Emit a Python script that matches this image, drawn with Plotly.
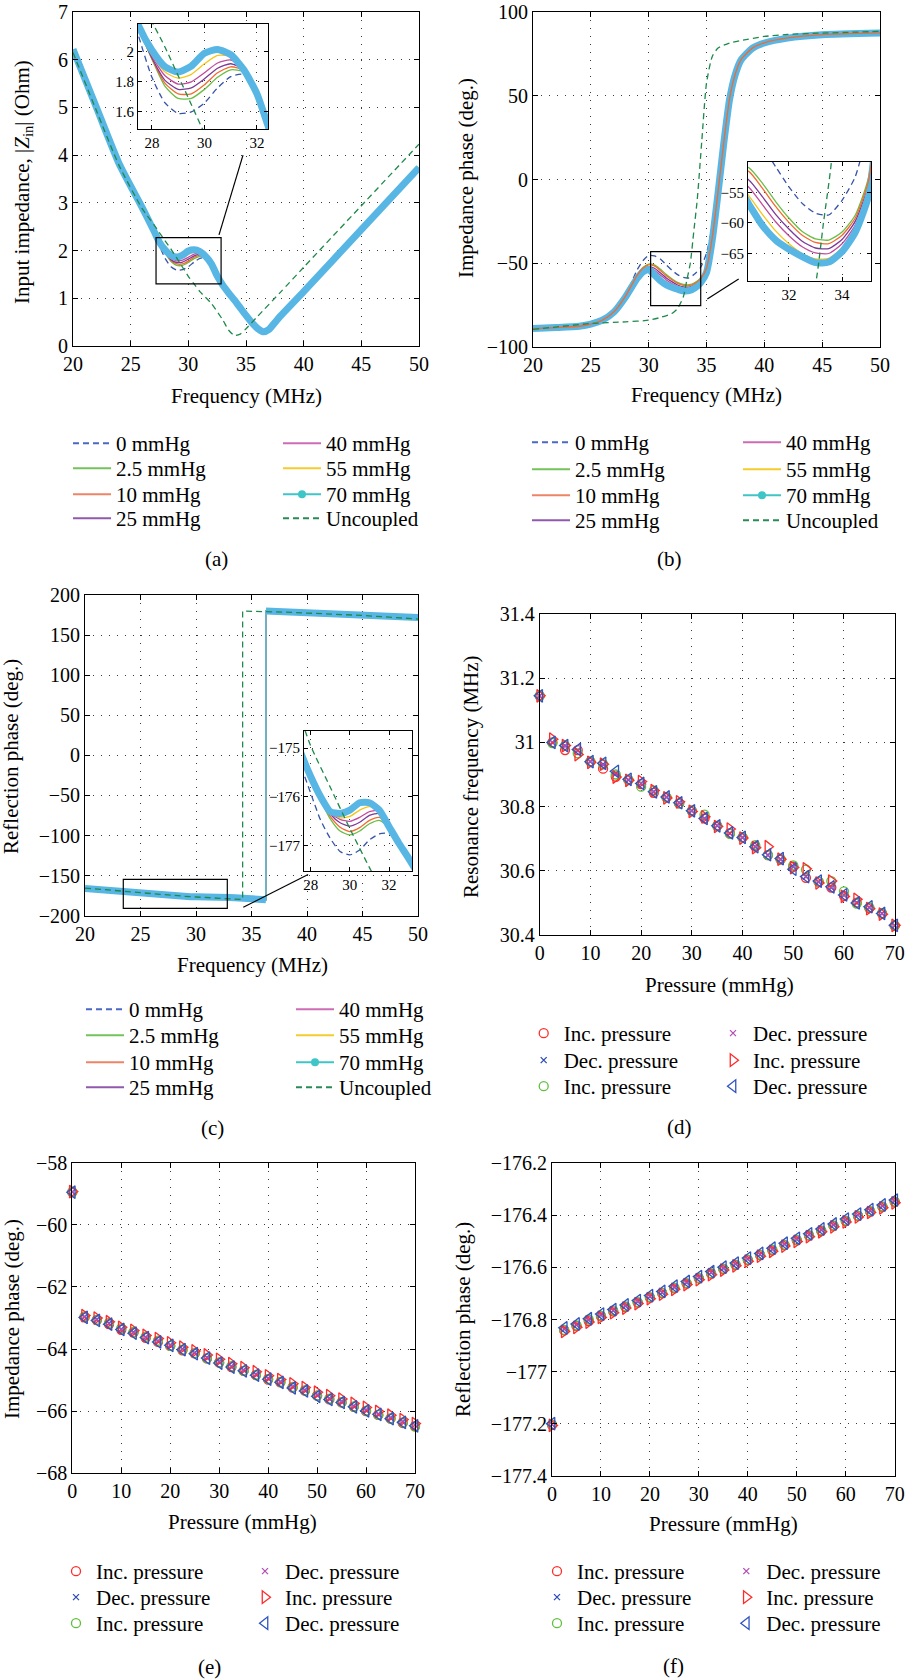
import plotly.graph_objects as go

# ============================ DATA ============================
# (a) Input impedance magnitude |Zin| (Ohm) vs frequency (MHz)
FREQ_A = [20, 22, 24, 26, 27, 27.5, 28, 28.5, 29, 29.5, 30, 30.5, 31, 31.5, 32, 32.5,
          33, 33.5, 34, 34.5, 35, 35.5, 36, 36.5, 37, 37.5, 38, 40, 45, 50]
ZIN_70 = [6.22, 5.02, 3.82, 2.9, 2.42, 2.17, 2.01, 1.9, 1.865, 1.905, 1.99, 2.015, 1.98, 1.88, 1.72, 1.47,
          1.27, 1.11, 0.96, 0.8, 0.64, 0.49, 0.37, 0.3, 0.35, 0.49, 0.63, 1.14, 2.44, 3.74]
FREQ_A_ZOOM = [27, 27.5, 28, 28.5, 29, 29.5, 30, 30.5, 31, 31.5, 32, 32.5, 33]
ZIN_0 = [2.42, 2.1, 1.83, 1.66, 1.59, 1.6, 1.66, 1.76, 1.835, 1.85, 1.72, 1.47, 1.27]
ZIN_2_5 = [2.42, 2.16, 1.95, 1.77, 1.69, 1.69, 1.75, 1.83, 1.88, 1.865, 1.72, 1.47, 1.27]
ZIN_10 = [2.42, 2.16, 1.955, 1.79, 1.72, 1.72, 1.78, 1.86, 1.9, 1.875, 1.72, 1.47, 1.27]
ZIN_25 = [2.42, 2.16, 1.96, 1.81, 1.75, 1.76, 1.82, 1.89, 1.92, 1.88, 1.72, 1.47, 1.27]
ZIN_40 = [2.42, 2.17, 1.97, 1.84, 1.785, 1.8, 1.86, 1.925, 1.945, 1.89, 1.72, 1.47, 1.27]
ZIN_55 = [2.42, 2.17, 1.98, 1.865, 1.825, 1.85, 1.92, 1.975, 1.97, 1.895, 1.72, 1.47, 1.27]
FREQ_A_UNC = [20, 22, 24, 26, 27, 27.5, 28, 28.5, 29, 29.5, 30, 30.5, 31, 32, 33, 33.5, 34, 34.5,
              35, 36, 38, 40, 45, 50]
ZIN_UNC = [6.15, 4.95, 3.78, 2.88, 2.55, 2.37, 2.2, 2.03, 1.84, 1.65, 1.46, 1.3, 1.14, 0.89, 0.54, 0.33,
           0.22, 0.25, 0.36, 0.62, 1.13, 1.65, 2.94, 4.23]

# (b) Impedance phase (deg.) vs frequency (MHz)
FREQ_B = [20, 22, 24, 25, 26, 27, 28, 29, 29.5, 30, 30.5, 31, 31.5, 32, 32.5, 33, 33.5, 34, 34.5,
          35, 35.5, 36, 36.5, 37, 37.5, 38, 39, 40, 42, 45, 50]
PHZ_70 = [-89.0, -88.4, -87.6, -86.4, -84.0, -79.1, -70.1, -59.1, -55.1, -53.7, -57.0, -60.4, -62.8,
          -64.3, -65.5, -66.5, -66.4, -64.7, -61.5, -55.5, -36.0, -8.0, 22.0, 48.0, 63.0, 71.5, 78.5,
          81.5, 84.4, 86.4, 87.4]
PHZ_10 = [-89.0, -88.4, -87.6, -86.4, -84.0, -79.0, -69.6, -57.3, -53.0, -51.0, -51.6, -54.3, -57.3,
          -59.9, -62.0, -63.2, -63.4, -62.0, -59.2, -53.0, -34.5, -7.2, 22.5, 48.5, 63.3, 71.7, 78.6,
          81.6, 84.5, 86.5, 87.5]
FREQ_B_ZOOM = [28, 29, 29.5, 30, 30.5, 31, 31.5, 32, 32.5, 33, 33.5, 34, 34.5, 35, 35.5, 36]
PHZ_0 = [-70.0, -54.0, -48.5, -45.3, -45.6, -47.5, -50.8, -54.1, -56.8, -58.4, -58.7, -56.3, -52.4,
         -44.0, -28.0, -6.0]
PHZ_2_5 = [-69.5, -57.0, -52.5, -50.5, -51.0, -53.5, -56.5, -59.2, -61.4, -62.6, -62.8, -61.5, -58.7,
           -52.5, -34.0, -7.0]
PHZ_25 = [-69.8, -57.8, -53.8, -52.0, -53.0, -55.7, -58.6, -61.0, -63.0, -64.1, -64.2, -62.7, -59.7,
          -53.6, -35.0, -7.5]
PHZ_40 = [-69.9, -58.2, -54.3, -52.7, -54.2, -57.0, -59.8, -62.1, -63.9, -64.9, -65.0, -63.4, -60.3,
          -54.2, -35.3, -7.7]
PHZ_55 = [-70.0, -58.6, -54.8, -53.2, -55.6, -58.6, -61.3, -63.4, -65.0, -65.9, -65.8, -64.1, -60.9,
          -54.8, -35.6, -7.8]
FREQ_B_UNC = [20, 25, 28, 30, 31, 32, 32.5, 33, 33.3, 33.6, 33.9, 34.2, 34.6, 35, 35.5, 36, 37, 38,
              40, 42, 45, 50]
PHZ_UNC = [-89.5, -86.0, -85.0, -84.0, -82.4, -80.0, -77.0, -70.0, -60.0, -50.0, -31.0, -12.0, 23.6,
           57.5, 73.5, 78.5, 81.5, 83.0, 85.4, 86.6, 87.4, 88.4]

# (c) Reflection phase (deg.) vs frequency (MHz)
FREQ_C = [20, 22, 24, 26, 27, 27.5, 28, 28.5, 29, 29.5, 30, 30.5, 31, 31.5, 32, 32.5, 33, 33.5, 34,
          35, 36, 36.3, 36.3, 37, 38, 40, 42, 45, 48, 50]
PHR_70 = [-166.0, -168.6, -171.0, -173.2, -174.55, -175.1, -175.58, -175.99, -176.3, -176.34, -176.27,
          -176.12, -176.12, -176.27, -176.61, -176.95, -177.26, -177.6, -178.0, -178.8, -179.6, -180.0,
          180.0, 179.6, 179.0, 177.8, 176.6, 175.2, 173.5, 172.0]
FREQ_C_ZOOM = [27, 27.5, 28, 28.5, 29, 29.5, 30, 30.5, 31, 31.5, 32, 32.5, 33, 34, 35, 36, 36.3, 36.3, 37]
PHR_0 = [-174.6, -175.35, -175.92, -176.47, -176.85, -177.12, -177.19, -177.09, -176.88, -176.76,
         -176.75, -176.95, -177.26, -178.0, -178.8, -179.6, -180.0, 180.0, 179.6]
PHR_2_5 = [-174.55, -175.1, -175.62, -176.06, -176.45, -176.7, -176.78, -176.7, -176.55, -176.48,
           -176.62, -176.95, -177.26, -178.0, -178.8, -179.6, -180.0, 180.0, 179.6]
PHR_10 = [-174.55, -175.1, -175.61, -176.04, -176.4, -176.62, -176.71, -176.63, -176.48, -176.42,
          -176.6, -176.95, -177.26, -178.0, -178.8, -179.6, -180.0, 180.0, 179.6]
PHR_25 = [-174.55, -175.1, -175.6, -176.03, -176.35, -176.53, -176.6, -176.52, -176.38, -176.34,
          -176.58, -176.95, -177.26, -178.0, -178.8, -179.6, -180.0, 180.0, 179.6]
PHR_40 = [-174.55, -175.1, -175.6, -176.02, -176.32, -176.46, -176.5, -176.42, -176.3, -176.28,
          -176.56, -176.95, -177.26, -178.0, -178.8, -179.6, -180.0, 180.0, 179.6]
PHR_55 = [-174.55, -175.1, -175.59, -176.0, -176.3, -176.43, -176.4, -176.27, -176.2, -176.24,
          -176.55, -176.95, -177.26, -178.0, -178.8, -179.6, -180.0, 180.0, 179.6]
FREQ_C_UNC = [20, 22, 24, 26, 27, 28, 29, 30, 31, 32, 33, 34, 34.2, 34.2, 35, 36, 38, 40, 45, 50]
PHR_UNC = [-165.5, -168.0, -170.4, -172.7, -173.8, -174.95, -175.8, -176.65, -177.45, -178.2, -178.9,
           -179.6, -179.8, 180.0, 179.9, 179.6, 178.6, 177.5, 174.5, 170.0]

# (d)-(f) versus pressure (mmHg)
PRESSURE = [0, 2.5, 5, 7.5, 10, 12.5, 15, 17.5, 20, 22.5, 25, 27.5, 30, 32.5, 35, 37.5, 40, 42.5,
            45, 47.5, 50, 52.5, 55, 57.5, 60, 62.5, 65, 67.5, 70]
FRES_INC1 = [31.145, 31.0, 30.976, 30.976, 30.94, 30.918, 30.893, 30.883, 30.87, 30.843, 30.829, 30.81,
             30.787, 30.763, 30.74, 30.717, 30.704, 30.675, 30.649, 30.636, 30.613, 30.578, 30.566,
             30.548, 30.522, 30.501, 30.484, 30.467, 30.429]
FRES_DEC1 = [31.145, 31.0, 30.99, 30.976, 30.94, 30.932, 30.904, 30.883, 30.872, 30.846, 30.829,
             30.812, 30.787, 30.763, 30.74, 30.717, 30.704, 30.675, 30.649, 30.636, 30.613, 30.582,
             30.566, 30.548, 30.525, 30.501, 30.486, 30.467, 30.429]
FRES_INC2 = [31.145, 30.998, 30.99, 30.966, 30.94, 30.932, 30.9, 30.883, 30.862, 30.85, 30.829, 30.81,
             30.787, 30.775, 30.74, 30.715, 30.704, 30.68, 30.649, 30.636, 30.617, 30.604, 30.566,
             30.568, 30.536, 30.498, 30.486, 30.467, 30.429]
FRES_DEC2 = [31.145, 31.0, 30.988, 30.974, 30.941, 30.93, 30.902, 30.884, 30.871, 30.845, 30.83,
             30.811, 30.786, 30.762, 30.741, 30.716, 30.703, 30.674, 30.648, 30.635, 30.612, 30.581,
             30.565, 30.547, 30.524, 30.5, 30.485, 30.466, 30.43]
FRES_INC3 = [31.145, 31.01, 30.99, 30.962, 30.938, 30.932, 30.892, 30.882, 30.878, 30.85, 30.827,
             30.815, 30.785, 30.768, 30.738, 30.73, 30.702, 30.672, 30.675, 30.636, 30.61, 30.606,
             30.562, 30.568, 30.52, 30.511, 30.482, 30.465, 30.43]
FRES_DEC3 = [31.145, 31.0, 30.99, 30.978, 30.94, 30.935, 30.91, 30.885, 30.872, 30.846, 30.83, 30.812,
             30.787, 30.763, 30.74, 30.718, 30.704, 30.675, 30.65, 30.638, 30.605, 30.582, 30.568,
             30.55, 30.525, 30.5, 30.488, 30.467, 30.43]

ZPH_INC1 = [-58.95, -62.98, -63.07, -63.2, -63.38, -63.47, -63.64, -63.77, -63.9, -64.04, -64.14, -64.3,
            -64.44, -64.58, -64.7, -64.84, -64.98, -65.07, -65.24, -65.34, -65.5, -65.62, -65.72, -65.86,
            -66.0, -66.12, -66.24, -66.38, -66.48]
ZPH_DEC1 = [-58.94, -62.96, -63.05, -63.17, -63.36, -63.46, -63.62, -63.74, -63.87, -64.0, -64.12,
            -64.27, -64.41, -64.56, -64.67, -64.81, -64.94, -65.05, -65.21, -65.32, -65.48, -65.59,
            -65.69, -65.83, -65.96, -66.09, -66.21, -66.34, -66.44]
ZPH_INC2 = [-58.94, -62.95, -63.06, -63.16, -63.33, -63.45, -63.6, -63.73, -63.9, -64.02, -64.13, -64.3,
            -64.43, -64.55, -64.7, -64.83, -64.96, -65.06, -65.22, -65.33, -65.5, -65.6, -65.71, -65.85,
            -65.98, -66.12, -66.23, -66.36, -66.5]
ZPH_DEC2 = [-58.94, -62.97, -63.06, -63.18, -63.37, -63.47, -63.62, -63.75, -63.88, -64.01, -64.13,
            -64.28, -64.42, -64.56, -64.68, -64.82, -64.95, -65.06, -65.21, -65.33, -65.48, -65.6, -65.7,
            -65.84, -65.97, -66.1, -66.22, -66.34, -66.45]
ZPH_INC3 = [-58.93, -62.92, -63.0, -63.12, -63.3, -63.4, -63.56, -63.66, -63.8, -63.94, -64.06, -64.19,
            -64.33, -64.47, -64.6, -64.73, -64.86, -64.98, -65.12, -65.24, -65.39, -65.5, -65.61, -65.75,
            -65.88, -66.01, -66.13, -66.27, -66.4]
ZPH_DEC3 = [-58.95, -62.98, -63.08, -63.2, -63.37, -63.49, -63.63, -63.77, -63.88, -64.02, -64.15,
            -64.29, -64.45, -64.58, -64.7, -64.84, -64.97, -65.07, -65.25, -65.35, -65.52, -65.62,
            -65.72, -65.86, -65.99, -66.1, -66.24, -66.36, -66.47]

RPH_INC1 = [-177.205, -176.842, -176.825, -176.806, -176.788, -176.769, -176.752, -176.735, -176.716,
            -176.699, -176.68, -176.662, -176.642, -176.624, -176.606, -176.59, -176.572, -176.553,
            -176.534, -176.514, -176.496, -176.478, -176.46, -176.44, -176.422, -176.402, -176.386,
            -176.367, -176.348]
RPH_DEC1 = [-177.203, -176.837, -176.821, -176.802, -176.783, -176.766, -176.748, -176.731, -176.712,
            -176.696, -176.676, -176.658, -176.639, -176.62, -176.603, -176.587, -176.568, -176.55,
            -176.53, -176.511, -176.492, -176.475, -176.456, -176.437, -176.418, -176.399, -176.382,
            -176.364, -176.345]
RPH_INC2 = [-177.203, -176.84, -176.823, -176.8, -176.785, -176.765, -176.75, -176.733, -176.714,
            -176.697, -176.678, -176.66, -176.641, -176.622, -176.605, -176.589, -176.57, -176.551,
            -176.532, -176.513, -176.494, -176.476, -176.458, -176.439, -176.42, -176.401, -176.384,
            -176.366, -176.347]
RPH_DEC2 = [-177.202, -176.836, -176.82, -176.801, -176.782, -176.765, -176.747, -176.73, -176.711,
            -176.695, -176.675, -176.657, -176.638, -176.619, -176.602, -176.586, -176.567, -176.549,
            -176.529, -176.51, -176.491, -176.474, -176.455, -176.436, -176.417, -176.398, -176.381,
            -176.363, -176.344]
RPH_INC3 = [-177.207, -176.846, -176.83, -176.81, -176.792, -176.774, -176.756, -176.739, -176.72,
            -176.703, -176.684, -176.666, -176.647, -176.628, -176.61, -176.594, -176.576, -176.557,
            -176.538, -176.518, -176.5, -176.482, -176.463, -176.444, -176.425, -176.406, -176.389,
            -176.371, -176.352]
RPH_DEC3 = [-177.2, -176.832, -176.817, -176.797, -176.779, -176.762, -176.744, -176.727, -176.708,
            -176.692, -176.672, -176.654, -176.635, -176.616, -176.599, -176.583, -176.564, -176.546,
            -176.526, -176.507, -176.488, -176.471, -176.452, -176.433, -176.414, -176.395, -176.378,
            -176.36, -176.341]

CURVE_KEYS = ["0", "2.5", "10", "25", "40", "55", "70", "unc"]
CURVE_LABELS = ["0 mmHg", "2.5 mmHg", "10 mmHg", "25 mmHg", "40 mmHg", "55 mmHg", "70 mmHg", "Uncoupled"]
MARKER_LABELS = ["Inc. pressure", "Dec. pressure", "Inc. pressure", "Dec. pressure", "Inc. pressure",
                 "Dec. pressure"]

FREQ_TICKS = [20, 25, 30, 35, 40, 45, 50]
ZIN_TICKS = [0, 1, 2, 3, 4, 5, 6, 7]
PHZ_TICKS = [-100, -50, 0, 50, 100]
PHR_TICKS = [-200, -150, -100, -50, 0, 50, 100, 150, 200]
P_TICKS = [0, 10, 20, 30, 40, 50, 60, 70]
FRES_TICKS = [30.4, 30.6, 30.8, 31, 31.2, 31.4]
ZPH_TICKS = [-68, -66, -64, -62, -60, -58]
RPH_TICKS = [-177.4, -177.2, -177, -176.8, -176.6, -176.4, -176.2]
INSET_A_XT, INSET_A_YT = [28, 30, 32], [1.6, 1.8, 2]
INSET_B_XT, INSET_B_YT = [32, 34], [-65, -60, -55]
INSET_C_XT, INSET_C_YT = [28, 30, 32], [-177, -176, -175]

# ============================ STYLE / LAYOUT ============================
FONT = "Liberation Serif, Tinos, Times New Roman, DejaVu Serif, serif"
W, H = 906, 1679
DASH = "6px,4px"
STYLE = {
    "0": ("#3553a8", 1.3, DASH),
    "2.5": ("#6cbd45", 1.3, None),
    "10": ("#f26a2e", 1.3, None),
    "25": ("#7b3a96", 1.3, None),
    "40": ("#c24a9c", 1.3, None),
    "55": ("#f6c514", 1.3, None),
    "70": ("#58b6e4", 7, None),
    "unc": ("#1d8a4a", 1.3, DASH),
}
LEGEND_STYLE = {
    "0": ("#4a68c4", DASH), "2.5": ("#74c35a", None), "10": ("#ec8466", None),
    "25": ("#9159ad", None), "40": ("#cc6cb6", None), "55": ("#f5cc2a", None),
    "70": ("#3fc5c7", None), "unc": ("#2a8a55", DASH),
}

fig = go.Figure()


def xd(a, b):
    return [a / W, b / W]


def yd(top, bottom):
    return [1 - bottom / H, 1 - top / H]


def axis(dom, rng, tv, anchor, fs=20, tl=5):
    return dict(domain=dom, range=rng, tickvals=tv, anchor=anchor, showline=True, linecolor="black",
                linewidth=1, mirror="allticks", ticks="inside", ticklen=tl, tickwidth=1,
                tickcolor="black", showgrid=True, gridcolor="#3a3a3a", gridwidth=1,
                griddash="1px,7px", zeroline=False, fixedrange=True, automargin=False,
                tickfont=dict(family=FONT, size=fs, color="black"))


AXES = [
    # n, xdomain px, ydomain px, xrange, yrange, xticks, yticks, font size
    (1, (73, 419), (12, 346), [20, 50], [0, 7], FREQ_TICKS, ZIN_TICKS, 20),
    (2, (533, 880), (12, 347), [20, 50], [-100, 100], FREQ_TICKS, PHZ_TICKS, 20),
    (3, (85, 418), (595, 915.7), [20, 50], [-200, 200], FREQ_TICKS, PHR_TICKS, 20),
    (4, (539.7, 894.7), (614, 935), [0, 70], [30.4, 31.4], P_TICKS, FRES_TICKS, 20),
    (5, (72.3, 415), (1162.7, 1473.3), [0, 70], [-68, -58], P_TICKS, ZPH_TICKS, 20),
    (6, (552, 894.7), (1163.3, 1475.7), [0, 70], [-177.4, -176.2], P_TICKS, RPH_TICKS, 20),
    (7, (138, 268), (24, 129), [27.47, 32.42], [1.487, 2.184], INSET_A_XT, INSET_A_YT, 15),
    (8, (748, 871), (162, 281), [30.46, 35.09], [-69.5, -50.03], INSET_B_XT, INSET_B_YT, 15),
    (9, (304, 412), (730.7, 871), [27.66, 33.17], [-177.52, -174.64], INSET_C_XT, INSET_C_YT, 15),
]
for n, xp, yp, xr, yr, xt, yt, fs in AXES:
    s = "" if n == 1 else str(n)
    tl = 5 if fs == 20 else 4
    fig.update_layout(**{"xaxis" + s: axis(xd(*xp), xr, xt, "y" + s, fs, tl),
                         "yaxis" + s: axis(yd(*yp), yr, yt, "x" + s, fs, tl)})


def break_at_wrap(x, y):
    """Insert a gap where the phase wraps from -180 to +180 (no data in between)."""
    xs, ys = [x[0]], [y[0]]
    for i in range(1, len(x)):
        if abs(y[i] - y[i - 1]) > 180:
            xs.append(None)
            ys.append(None)
        xs.append(x[i])
        ys.append(y[i])
    return xs, ys


def add_curve(x, y, key, n, shape, width=None):
    color, w, dash = STYLE[key]
    s = "" if n == 1 else str(n)
    line = dict(color=color, width=width if width else w, shape=shape)
    if shape == "spline":
        line["smoothing"] = 0.6
    if dash:
        line["dash"] = dash
    fig.add_trace(go.Scatter(x=x, y=y, mode="lines", line=line, xaxis="x" + s, yaxis="y" + s,
                             showlegend=False, hoverinfo="skip", connectgaps=False))


PANEL_A = [(FREQ_A_ZOOM, ZIN_0, "0"), (FREQ_A_ZOOM, ZIN_2_5, "2.5"), (FREQ_A_ZOOM, ZIN_10, "10"),
           (FREQ_A_ZOOM, ZIN_25, "25"), (FREQ_A_ZOOM, ZIN_40, "40"), (FREQ_A_ZOOM, ZIN_55, "55"),
           (FREQ_A, ZIN_70, "70"), (FREQ_A_UNC, ZIN_UNC, "unc")]
PANEL_B = [(FREQ_B_ZOOM, PHZ_0, "0"), (FREQ_B_ZOOM, PHZ_2_5, "2.5"), (FREQ_B_ZOOM, PHZ_25, "25"),
           (FREQ_B_ZOOM, PHZ_40, "40"), (FREQ_B_ZOOM, PHZ_55, "55"), (FREQ_B, PHZ_70, "70"),
           (FREQ_B, PHZ_10, "10"), (FREQ_B_UNC, PHZ_UNC, "unc")]
PANEL_C = [(FREQ_C_ZOOM, PHR_0, "0"), (FREQ_C_ZOOM, PHR_2_5, "2.5"), (FREQ_C_ZOOM, PHR_10, "10"),
           (FREQ_C_ZOOM, PHR_25, "25"), (FREQ_C_ZOOM, PHR_40, "40"), (FREQ_C_ZOOM, PHR_55, "55"),
           (FREQ_C, PHR_70, "70"), (FREQ_C_UNC, PHR_UNC, "unc")]

for x, y, key in PANEL_A:
    add_curve(x, y, key, 1, "spline")
for x, y, key in PANEL_B:
    add_curve(x, y, key, 2, "spline")
for x, y, key in PANEL_C:
    if key == "70":
        # thick band made of samples; the wrap itself is only a thin connecting line
        bx, by = break_at_wrap(x, y)
        add_curve(bx, by, key, 3, "linear")
        add_curve(x, y, key, 3, "linear", width=1.6)
    else:
        add_curve(x, y, key, 3, "linear")
for series, inset_n in [(PANEL_A, 7), (PANEL_B, 8), (PANEL_C, 9)]:
    for x, y, key in series:
        add_curve(x, y, key, inset_n, "spline")

# ---------------- marker panels ----------------
MARKERS = [("circle-open", "#ff2b2b", 9), ("x-thin-open", "#2c4db5", 6), ("circle-open", "#5dbf3c", 9),
           ("x-thin-open", "#b24fb6", 6), ("triangle-right-open", "#ff2b2b", 11),
           ("triangle-left-open", "#2f54c0", 11)]
PANEL_D = [FRES_INC1, FRES_DEC1, FRES_INC2, FRES_DEC2, FRES_INC3, FRES_DEC3]
PANEL_E = [ZPH_INC1, ZPH_DEC1, ZPH_INC2, ZPH_DEC2, ZPH_INC3, ZPH_DEC3]
PANEL_F = [RPH_INC1, RPH_DEC1, RPH_INC2, RPH_DEC2, RPH_INC3, RPH_DEC3]

# ---------------- legends (one per entry, placed like the reference) ----------------
legend_counter = [0]


def new_legend(x0, row_center, iw):
    legend_counter[0] += 1
    k = legend_counter[0]
    name = "legend" if k == 1 else "legend%d" % k
    fig.update_layout(**{name: dict(x=x0 / W, y=1 - (row_center - 20) / H, xanchor="left",
                                    yanchor="top", bgcolor="rgba(0,0,0,0)", borderwidth=0,
                                    itemwidth=iw, orientation="v",
                                    font=dict(family=FONT, size=21, color="black"),
                                    itemclick=False, itemdoubleclick=False)})
    return name


LINE_LEGENDS = [  # left line start x, right line start x, row centres
    (73, 283, [443, 468, 494, 518]),
    (532, 743, [442, 469, 495, 520]),
    (86, 296, [1009, 1035, 1062, 1087]),
]
for lx, rx, rows in LINE_LEGENDS:
    for i, (key, label) in enumerate(zip(CURVE_KEYS, CURVE_LABELS)):
        col_x = lx if i < 4 else rx
        lg = new_legend(col_x - 5, rows[i % 4], 38)
        color, dash = LEGEND_STYLE[key]
        line = dict(color=color, width=2)
        if dash:
            line["dash"] = dash
        mode = "lines+markers" if key == "70" else "lines"
        fig.add_trace(go.Scatter(x=[None], y=[None], mode=mode, line=line,
                                 marker=dict(size=8, color=color), name=label, legend=lg,
                                 showlegend=True, hoverinfo="skip"))

MARKER_PANELS = [  # data, axis n, left marker x, right marker x, row centres
    (PANEL_D, 4, 543.7, 733, [1033, 1060, 1086]),
    (PANEL_E, 5, 76, 265, [1571, 1597, 1623]),
    (PANEL_F, 6, 557, 746.3, [1571, 1597, 1623]),
]
for data, n, lx, rx, rows in MARKER_PANELS:
    for i, (yvals, (sym, color, size), label) in enumerate(zip(data, MARKERS, MARKER_LABELS)):
        col_x = lx if i < 3 else rx
        lg = new_legend(col_x - 20, rows[i % 3], 30)
        fig.add_trace(go.Scatter(x=PRESSURE, y=yvals, mode="markers", xaxis="x%d" % n,
                                 yaxis="y%d" % n, name=label, legend=lg, cliponaxis=False,
                                 marker=dict(symbol=sym, size=size, color=color,
                                             line=dict(color=color, width=1.3)),
                                 hoverinfo="skip"))

# ---------------- zoom boxes and connectors ----------------
shapes = []
for ref, (x0, x1, y0, y1), (cx0, cy0, cx1, cy1) in [
        ("", (27.2, 32.84, 1.3, 2.27), (32.66, 2.33, 34.74, 4.0)),
        ("2", (30.17, 34.5, -75.3, -43.1), (35.07, -71.3, 37.78, -59.4)),
        ("3", (23.45, 32.82, -190.9, -154.7), (34.26, -189.5, 40.1, -148.7))]:
    shapes.append(dict(type="rect", xref="x" + ref, yref="y" + ref, x0=x0, x1=x1, y0=y0, y1=y1,
                       line=dict(color="black", width=1.2)))
    shapes.append(dict(type="line", xref="x" + ref, yref="y" + ref, x0=cx0, y0=cy0, x1=cx1, y1=cy1,
                       line=dict(color="black", width=1.2)))
fig.update_layout(shapes=shapes)

# ---------------- axis titles and panel labels ----------------
ann = []


def text(t, x, y, size=21, angle=0):
    ann.append(dict(text=t, x=x / W, y=1 - y / H, xref="paper", yref="paper", showarrow=False,
                    xanchor="center", yanchor="middle", textangle=angle,
                    font=dict(family=FONT, size=size, color="black")))


text("Frequency (MHz)", 246, 396)
text("Input impedance, |<i>Z</i><sub>in</sub>| (Ohm)", 23, 182, angle=-90)
text("Frequency (MHz)", 706, 395)
text("Impedance phase (deg.)", 466, 178, angle=-90)
text("Frequency (MHz)", 253, 965)
text("Reflection phase (deg.)", 11, 757, angle=-90)
text("Pressure (mmHg)", 719, 985)
text("Resonance frequency (MHz)", 471, 777, angle=-90)
text("Pressure (mmHg)", 243, 1522)
text("Impedance phase (deg.)", 12, 1319, angle=-90)
text("Pressure (mmHg)", 723, 1524)
text("Reflection phase (deg.)", 463, 1319, angle=-90)
for lab, x, y in [("(a)", 216, 559), ("(b)", 669, 559), ("(c)", 212, 1128), ("(d)", 679, 1127),
                  ("(e)", 209, 1667), ("(f)", 673, 1666)]:
    text(lab, x, y)

fig.update_layout(annotations=ann, width=W, height=H,
                  margin=dict(l=0, r=0, t=0, b=0, pad=0, autoexpand=False),
                  paper_bgcolor="white", plot_bgcolor="white", hovermode=False,
                  font=dict(family=FONT, size=20, color="black"))

# the page's default 8px body margin would shift the whole figure; remove it
fig.write_html("out.html", config={"displayModeBar": False},
               post_script="document.body.style.margin='0px';document.body.style.overflow='hidden';")
